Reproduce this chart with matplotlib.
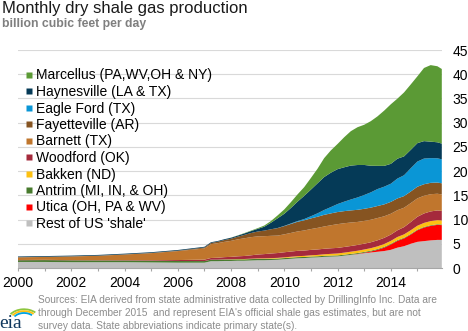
import numpy as np
import pandas as pd
import matplotlib
matplotlib.use("Agg")
import matplotlib.pyplot as plt
import matplotlib.dates as mdates
from matplotlib.lines import Line2D
from matplotlib.patches import Arc

plt.rcParams['font.family'] = ['Liberation Sans', 'DejaVu Sans']

# sample dates: yearly up to 2006, quarterly afterwards, last point Dec 2015
dates = pd.to_datetime(
    ["2000-01", "2001-01", "2002-01", "2003-01", "2004-01", "2005-01", "2006-01",
     "2007-01", "2007-04", "2007-07", "2007-10",
     "2008-01", "2008-04", "2008-07", "2008-10",
     "2009-01", "2009-04", "2009-07", "2009-10",
     "2010-01", "2010-04", "2010-07", "2010-10",
     "2011-01", "2011-04", "2011-07", "2011-10",
     "2012-01", "2012-04", "2012-07", "2012-10",
     "2013-01", "2013-04", "2013-07", "2013-10",
     "2014-01", "2014-04", "2014-07", "2014-10",
     "2015-01", "2015-04", "2015-07", "2015-10", "2015-12"])

# billion cubic feet per day, bottom of the stack first
rest = [1.25, 1.25, 1.2, 1.2, 1.2, 1.15, 1.1, 1.1,
        1.4, 1.4, 1.45,
        1.45, 1.5, 1.5, 1.55, 1.6, 1.6, 1.65, 1.7,
        1.8, 1.9, 2.0, 2.05, 2.15, 2.2, 2.3, 2.35,
        2.4, 2.55, 2.7, 2.85, 3.05, 3.2, 3.35, 3.5,
        3.75, 4.2, 4.5, 5.0, 5.4, 5.55, 5.7, 5.8, 5.8]
utica = [0, 0, 0, 0, 0, 0, 0, 0,
         0, 0, 0,
         0, 0, 0, 0, 0, 0, 0, 0,
         0, 0, 0, 0, 0, 0, 0, 0,
         0, 0, 0.02, 0.05, 0.1, 0.2, 0.4, 0.7,
         1.1, 1.4, 1.6, 1.9, 2.4, 2.8, 3.0, 3.1, 3.05]
antrim = [0.35, 0.38, 0.38, 0.36, 0.35, 0.35, 0.34, 0.33,
          0.32, 0.32, 0.31,
          0.3, 0.3, 0.29, 0.29, 0.28, 0.28, 0.27, 0.26,
          0.25, 0.25, 0.24, 0.23, 0.22, 0.22, 0.21, 0.21,
          0.2, 0.2, 0.19, 0.18, 0.17, 0.17, 0.16, 0.16,
          0.15, 0.15, 0.14, 0.14, 0.13, 0.13, 0.13, 0.13, 0.13]
bakken = [0, 0, 0, 0, 0, 0, 0, 0,
          0, 0, 0.03,
          0.05, 0.06, 0.07, 0.08, 0.1, 0.11, 0.12, 0.13,
          0.15, 0.17, 0.2, 0.22, 0.25, 0.28, 0.32, 0.36,
          0.4, 0.42, 0.45, 0.48, 0.5, 0.52, 0.55, 0.58,
          0.6, 0.65, 0.7, 0.75, 0.8, 0.83, 0.85, 0.85, 0.85]
woodford = [0.05, 0.05, 0.05, 0.06, 0.08, 0.12, 0.2, 0.3,
            0.35, 0.4, 0.45,
            0.5, 0.55, 0.62, 0.7, 0.8, 0.88, 0.95, 1.0,
            1.05, 1.07, 1.1, 1.1, 1.12, 1.13, 1.14, 1.15,
            1.15, 1.17, 1.18, 1.2, 1.2, 1.22, 1.25, 1.28,
            1.3, 1.38, 1.5, 1.7, 1.85, 1.95, 2.0, 2.0, 1.95]
barnett = [0.55, 0.6, 0.75, 0.9, 1.15, 1.45, 1.85, 2.3,
           2.85, 3.0, 3.15,
           3.3, 3.5, 3.65, 3.75, 3.75, 3.7, 3.65, 3.6,
           3.7, 3.85, 4.0, 4.15, 4.3, 4.45, 4.6, 4.75,
           4.9, 4.9, 4.85, 4.75, 4.7, 4.65, 4.6, 4.45,
           4.3, 4.15, 4.0, 3.9, 3.8, 3.65, 3.55, 3.45, 3.4]
fayetteville = [0.03, 0.03, 0.03, 0.03, 0.03, 0.04, 0.08, 0.2,
                0.25, 0.3, 0.38,
                0.45, 0.55, 0.7, 0.85, 1.0, 1.15, 1.35, 1.55,
                1.7, 1.85, 2.0, 2.1, 2.2, 2.3, 2.4, 2.45,
                2.5, 2.5, 2.5, 2.5, 2.5, 2.5, 2.48, 2.46,
                2.45, 2.43, 2.4, 2.4, 2.4, 2.38, 2.35, 2.32, 2.3]
eagle_ford = [0, 0, 0, 0, 0, 0, 0, 0,
              0, 0, 0,
              0, 0, 0, 0, 0, 0, 0, 0.02,
              0.05, 0.1, 0.15, 0.25, 0.45, 0.7, 1.0, 1.3,
              1.65, 1.95, 2.25, 2.55, 2.85, 3.15, 3.5, 3.65,
              3.75, 4.1, 4.3, 4.8, 5.2, 5.3, 5.1, 5.0, 4.95]
haynesville = [0.15, 0.15, 0.15, 0.15, 0.15, 0.15, 0.15, 0.15,
               0.15, 0.15, 0.17,
               0.2, 0.22, 0.3, 0.4, 0.55, 0.8, 1.35, 2.0,
               2.5, 3.2, 4.0, 4.8, 5.5, 6.2, 6.8, 7.1,
               7.2, 7.1, 7.0, 6.7, 6.2, 5.5, 4.8, 4.3,
               4.1, 4.1, 3.9, 3.8, 3.8, 3.6, 3.4, 3.3, 3.25]
marcellus = [0, 0, 0, 0, 0, 0, 0, 0,
             0, 0, 0,
             0.02, 0.04, 0.07, 0.1, 0.15, 0.25, 0.35, 0.6,
             0.9, 1.2, 1.5, 1.8, 2.4, 3.0, 3.9, 4.6,
             5.2, 6.2, 7.1, 7.8, 8.3, 9.2, 10.2, 11.4,
             12.3, 12.4, 13.2, 13.5, 13.8, 15.1, 15.8, 15.7, 15.4]

series = [rest, utica, antrim, bakken, woodford, barnett,
          fayetteville, eagle_ford, haynesville, marcellus]
labels = ["Rest of US 'shale'", "Utica (OH, PA & WV)", "Antrim (MI, IN, & OH)",
          "Bakken (ND)", "Woodford (OK)", "Barnett (TX)", "Fayetteville (AR)",
          "Eagle Ford (TX)", "Haynesville (LA & TX)", "Marcellus (PA,WV,OH & NY)"]
colors = ["#bfbfbf", "#fe0000", "#477a2d", "#fec111", "#a52a3c", "#c0762d",
          "#865421", "#0a96d6", "#053a57", "#5b9a35"]

W, H = 468, 331
fig = plt.figure(figsize=(W / 100, H / 100), dpi=100)
ax = fig.add_axes([18 / W, 1 - 268 / H, (441.8 - 18) / W, 218 / H])

ax.stackplot(dates, np.array(series), colors=colors, linewidth=0)

ax.set_xlim(dates[0], dates[-1])
ax.set_ylim(0, 45)
ax.set_yticks(range(0, 46, 5))
ax.yaxis.tick_right()
ax.tick_params(axis='y', length=0, pad=7.8, labelsize=10, labelcolor='black')
ax.grid(axis='y', color='#d9d9d9', linewidth=0.8)
ax.set_axisbelow(True)

ax.xaxis.set_major_locator(mdates.YearLocator(1))
ax.xaxis.set_major_formatter(
    plt.FuncFormatter(lambda v, p: mdates.num2date(v).strftime('%Y')
                      if mdates.num2date(v).year % 2 == 0 else ''))
ax.tick_params(axis='x', direction='out', length=2.5, width=0.8, color='#a6a6a6',
               pad=3, labelsize=10, labelcolor='black')

for s in ['top', 'left', 'right']:
    ax.spines[s].set_visible(False)
ax.spines['bottom'].set_color('#a6a6a6')
ax.spines['bottom'].set_linewidth(0.8)

handles = [Line2D([], [], marker='s', linestyle='none', markersize=3.8,
                  markerfacecolor=c, markeredgecolor='none') for c in colors]
leg = fig.legend(handles[::-1], labels[::-1], loc='upper left',
                 bbox_to_anchor=(25 / W, 1 - 68.5 / H), frameon=False, fontsize=10,
                 handlelength=0.6, handletextpad=0.2, labelspacing=0.18,
                 borderpad=0, borderaxespad=0)

fig.text(2 / W, 1 - 12.7 / H, "Monthly dry shale gas production",
         fontsize=12, color='#1a1a1a', va='baseline')
fig.text(2 / W, 1 - 26.7 / H, "billion cubic feet per day",
         fontsize=8.8, color='#7f7f7f', fontweight='bold', va='baseline')

source_lines = ["Sources: EIA derived from state administrative data collected by DrillingInfo Inc. Data are",
                "through December 2015  and represent EIA's official shale gas estimates, but are not",
                "survey data. State abbreviations indicate primary state(s)."]
for i, line in enumerate(source_lines):
    fig.text(37.7 / W, 1 - (303.3 + 12.7 * i) / H, line, fontsize=7.3,
             color='#8c8c8c', va='baseline')

# eia logo
lax = fig.add_axes([0, 0, 40 / W, 35 / H])
lax.set_xlim(0, 40)
lax.set_ylim(0, 35)
lax.axis('off')
lax.text(-0.5, 3, "eia", fontsize=14, family=['Liberation Serif', 'DejaVu Serif'],
         color='#10385e', va='baseline')
for w, c in zip([34, 29, 24], ['#8dc63f', '#ffc20e', '#00a3e0']):
    lax.add_patch(Arc((24, 9), w, w * 0.75, theta1=40, theta2=150, color=c, lw=1.3))

fig.savefig("out.png", dpi=100)
